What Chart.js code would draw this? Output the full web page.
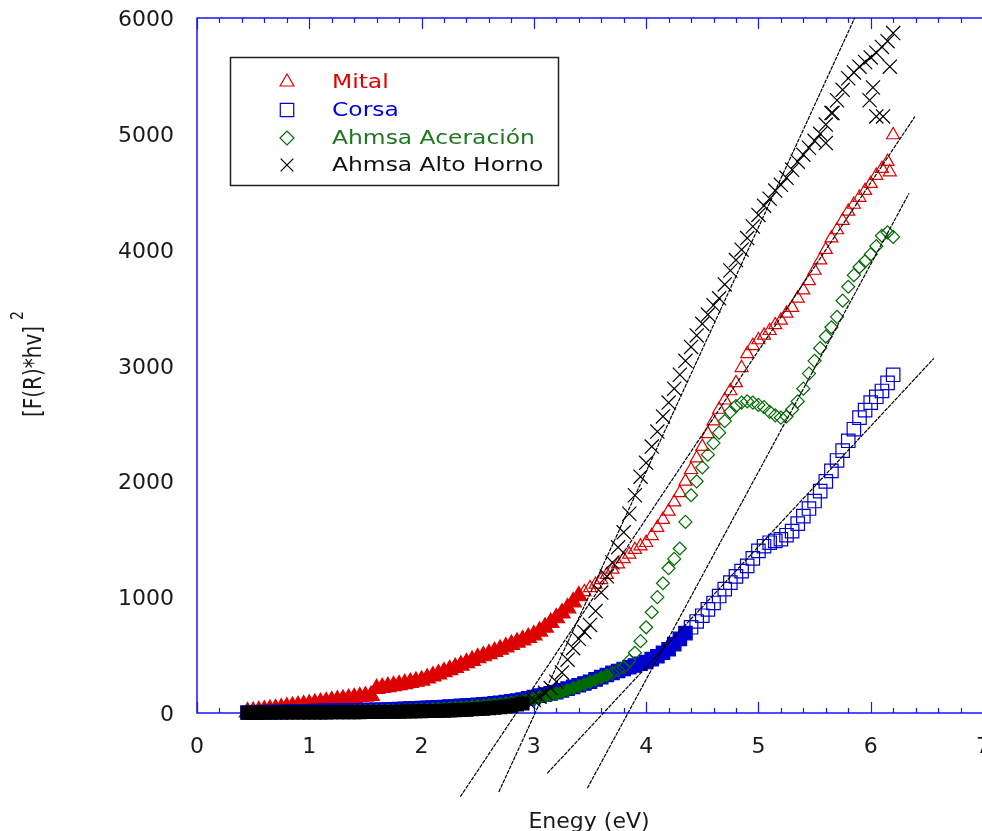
<!DOCTYPE html>
<html>
<head>
<meta charset="utf-8">
<script src="https://cdn.jsdelivr.net/npm/chart.js@4"></script>
<style>
  html, body { margin: 0; padding: 0; background: #fff; overflow: hidden; }
  #wrap { width: 982px; height: 831px; overflow: hidden; }
</style>
</head>
<body>
<div id="wrap"><canvas id="chart" width="1000" height="831"></canvas></div>
<script>
// photon energy (eV), shared by the four samples
const energy = [
  0.45,0.50,0.55,0.60,0.65,0.70,0.75,0.80,0.85,0.90,
  0.95,1.00,1.05,1.10,1.15,1.20,1.25,1.30,1.35,1.40,
  1.45,1.50,1.55,1.60,1.65,1.70,1.75,1.80,1.85,1.90,
  1.95,2.00,2.05,2.10,2.15,2.20,2.25,2.30,2.35,2.40,
  2.45,2.50,2.55,2.60,2.65,2.70,2.75,2.80,2.85,2.90,
  2.95,3.00,3.05,3.10,3.15,3.20,3.25,3.30,3.35,3.40,
  3.45,3.50,3.55,3.60,3.65,3.70,3.75,3.80,3.85,3.90,
  3.95,4.00,4.05,4.10,4.15,4.20,4.25,4.30,4.35,4.40,
  4.45,4.50,4.55,4.60,4.65,4.70,4.75,4.80,4.85,4.90,
  4.95,5.00,5.05,5.10,5.15,5.20,5.25,5.30,5.35,5.40,
  5.45,5.50,5.55,5.60,5.65,5.70,5.75,5.80,5.85,5.90,
  5.95,6.00,6.05,6.10,6.15,6.20
];

// [F(R)*hv]^2 por muestra
const mital = [
  8,12,18,24,30,36,42,49,56,63,
  69,75,82,89,96,103,110,117,124,131,
  138,144,150,210,218,226,234,242,252,262,
  272,282,300,318,336,354,372,392,412,432,
  453,475,492,510,529,548,569,590,610,630,
  651,673,705,740,780,820,862,906,958,1010,
  1045,1080,1110,1150,1195,1240,1285,1330,1370,1410,
  1440,1470,1530,1600,1670,1740,1820,1900,2000,2100,
  2200,2300,2410,2520,2620,2700,2780,2850,2980,3100,
  3170,3220,3260,3300,3350,3390,3450,3500,3580,3650,
  3730,3820,3910,4000,4100,4170,4250,4330,4390,4450,
  4510,4570,4640,4700,4760,4990
];
const corsa = [
  4,5,6,7,8,9,10,11,12,13,
  14,15,16,17,18,19,20,21,22,23,
  24,25,26,27,28,30,32,34,36,38,
  40,42,44,46,49,52,55,58,61,64,
  67,70,74,78,83,88,94,101,108,116,
  126,138,150,160,170,180,195,210,225,240,
  255,270,290,310,328,346,363,380,395,410,
  425,440,465,490,520,550,595,640,690,740,
  790,840,895,950,1010,1070,1125,1180,1225,1270,
  1335,1400,1440,1470,1485,1500,1535,1570,1635,1700,
  1765,1830,1915,2000,2090,2180,2265,2350,2450,2550,
  2615,2680,2730,2780,2850,2920
];
const aceracion = [
  3,3,4,4,5,5,6,6,7,7,
  8,8,9,9,10,10,11,12,13,14,
  15,16,17,18,19,20,21,22,24,26,
  28,30,32,34,36,39,42,45,48,52,
  56,60,64,68,73,78,84,90,97,105,
  113,122,132,143,155,168,182,198,214,232,
  250,268,285,305,325,345,368,395,450,520,
  620,740,870,1000,1120,1250,1330,1420,1650,1880,
  2000,2120,2230,2330,2420,2520,2600,2650,2680,2690,
  2680,2660,2640,2600,2570,2550,2560,2620,2690,2800,
  2930,3040,3150,3250,3330,3420,3560,3680,3780,3850,
  3900,3960,4030,4120,4150,4110
];
const altoHorno = [
  2,2,2,3,3,3,3,4,4,4,
  4,5,5,5,5,6,6,6,7,7,
  7,8,8,9,9,10,10,11,12,13,
  14,15,16,17,18,20,22,24,26,28,
  31,34,37,41,45,50,56,63,72,82,
  95,112,140,175,215,270,350,460,560,640,
  700,760,880,1040,1180,1300,1430,1560,1720,1880,
  2040,2160,2300,2430,2560,2680,2800,2920,3040,3160,
  3260,3360,3440,3520,3580,3700,3820,3910,4000,4100,
  4200,4300,4380,4440,4510,4560,4620,4690,4760,4820,
  4880,4940,5000,5080,5180,5290,5380,5480,5530,5580,
  5620,5660,5700,5750,5800,5870
];
// puntos sueltos fuera de la curva principal
const mitalExtraE = [6.17];
const mitalExtraV = [4670];
const altoHornoExtraE = [5.60, 5.66, 5.99, 6.02, 6.05, 6.11, 6.17];
const altoHornoExtraV = [4920, 5180, 5290, 5400, 5150, 5150, 5580];

// rectas tangentes (extremos en eV, valor)
const fitMital = [[2.345, -723], [6.393, 5148]];
const fitCorsa = [[3.119, -521], [6.563, 3062]];
const fitAceracion = [[3.476, -650], [6.342, 4487]];
const fitAltoHorno = [[2.688, -682], [5.857, 6000]];

const seriesNames = ['Mital', 'Corsa', 'Ahmsa Aceración', 'Ahmsa Alto Horno'];
const seriesColors = ['#dd0000', '#0000d0', '#006a00', '#000000'];
const legendTextColors = ['#e00000', '#0000e6', '#1e781e', '#111111'];

const xMin = 0, xMax = 7, xStep = 1;
const yMin = 0, yMax = 6000, yStep = 1000;

const axisBlue = '#1414ff';
const labelFont = '22px "DejaVu Sans"';

function toPoints(xs, ys) {
  return xs.map((x, i) => ({ x: x, y: ys[i] }));
}
function toLine(pairs) {
  return pairs.map(p => ({ x: p[0], y: p[1] }));
}
// zona donde los marcadores se amontonan en una banda continua
function inBand(c, limit) {
  return c.raw && c.raw.x < limit;
}
function fillBelow(limit, color) {
  return c => inBand(c, limit) ? color : 'rgba(0,0,0,0)';
}

// marco azul y marcas hacia dentro
const frameAndTicks = {
  id: 'frameAndTicks',
  beforeDatasetsDraw(chart) {
    const ctx = chart.ctx, a = chart.chartArea, xs = chart.scales.x;
    ctx.save();
    ctx.strokeStyle = axisBlue;
    ctx.lineWidth = 1.5;
    ctx.beginPath();
    ctx.moveTo(a.right, a.top);
    ctx.lineTo(a.left, a.top);
    ctx.lineTo(a.left, a.bottom);
    ctx.lineTo(a.right, a.bottom);
    ctx.lineTo(a.right, a.top);
    ctx.stroke();
    ctx.beginPath();
    for (let i = 0; i <= 35; i++) {
      const px = Math.round(xs.getPixelForValue(i * 0.2)) + 0.5;
      const len = i % 5 === 0 ? 11 : 5;
      ctx.moveTo(px, a.bottom);
      ctx.lineTo(px, a.bottom - len);
      ctx.moveTo(px, a.top);
      ctx.lineTo(px, a.top + len);
    }
    ctx.lineWidth = 1.2;
    ctx.stroke();
    ctx.restore();
  }
};

const tickLabels = {
  id: 'tickLabels',
  afterDraw(chart) {
    const ctx = chart.ctx, a = chart.chartArea;
    const xs = chart.scales.x, ys = chart.scales.y;
    ctx.save();
    ctx.font = labelFont;
    ctx.fillStyle = '#1a1a1a';
    ctx.textBaseline = 'alphabetic';
    ctx.textAlign = 'center';
    xs.ticks.forEach(t => {
      ctx.fillText(String(t.value), xs.getPixelForValue(t.value), a.bottom + 40);
    });
    ctx.textAlign = 'right';
    ys.ticks.forEach(t => {
      ctx.fillText(String(t.value), a.left - 23, ys.getPixelForValue(t.value) + 8);
    });
    ctx.restore();
  }
};

function drawMarker(ctx, style, x, y, r) {
  ctx.beginPath();
  if (style === 'triangle') {
    ctx.moveTo(x, y - r);
    ctx.lineTo(x + r * 0.866, y + r * 0.5);
    ctx.lineTo(x - r * 0.866, y + r * 0.5);
    ctx.closePath();
  } else if (style === 'rect') {
    const s = r * 0.707;
    ctx.rect(x - s, y - s, 2 * s, 2 * s);
  } else if (style === 'rectRot') {
    ctx.moveTo(x - r, y);
    ctx.lineTo(x, y - r);
    ctx.lineTo(x + r, y);
    ctx.lineTo(x, y + r);
    ctx.closePath();
  } else {
    const s = r * 0.707;
    ctx.moveTo(x - s, y - s);
    ctx.lineTo(x + s, y + s);
    ctx.moveTo(x + s, y - s);
    ctx.lineTo(x - s, y + s);
  }
  ctx.stroke();
}

// leyenda con recuadro
const legendBox = {
  id: 'legendBox',
  afterDraw(chart) {
    const ctx = chart.ctx;
    const styles = ['triangle', 'rect', 'rectRot', 'crossRot'];
    const sizes = [8, 9.5, 7, 9];
    const rows = [82, 110, 138, 165];
    ctx.save();
    ctx.fillStyle = '#fff';
    ctx.fillRect(230, 57, 328, 129);
    ctx.strokeStyle = '#222';
    ctx.lineWidth = 1.5;
    ctx.strokeRect(230.5, 57.5, 328, 128);
    ctx.lineWidth = 1.2;
    ctx.font = '20px "DejaVu Sans"';
    ctx.textBaseline = 'middle';
    ctx.textAlign = 'left';
    for (let i = 0; i < 4; i++) {
      ctx.strokeStyle = seriesColors[i];
      drawMarker(ctx, styles[i], 287, rows[i], sizes[i]);
      ctx.fillStyle = legendTextColors[i];
      ctx.save();
      ctx.translate(332, rows[i] + 1);
      ctx.scale(1.17, 1);
      ctx.fillText(seriesNames[i], 0, 0);
      ctx.restore();
    }
    ctx.restore();
  }
};

// títulos de los ejes
const axisTitles = {
  id: 'axisTitles',
  afterDraw(chart) {
    const ctx = chart.ctx;
    ctx.save();
    ctx.fillStyle = '#1a1a1a';
    ctx.font = labelFont;
    ctx.textAlign = 'center';
    ctx.textBaseline = 'alphabetic';
    ctx.fillText('Enegy (eV)', 589, 828);

    ctx.translate(41, 417);
    ctx.rotate(-Math.PI / 2);
    ctx.scale(1, 1.2);
    ctx.textAlign = 'left';
    ctx.font = '20px "DejaVu Sans"';
    ctx.fillText('[F(R)*hv]', 0, 0);
    const w = ctx.measureText('[F(R)*hv]').width;
    ctx.font = '14px "DejaVu Sans"';
    ctx.fillText('2', w + 6, -15);
    ctx.restore();
  }
};

const tangentStyle = {
  showLine: true,
  pointRadius: 0,
  borderColor: '#000',
  borderWidth: 1.2,
  borderDash: [4, 1],
  clip: false,
  order: 0
};

new Chart(document.getElementById('chart'), {
  type: 'scatter',
  data: {
    datasets: [
      {
        label: seriesNames[0],
        data: toPoints(energy, mital).concat(toPoints(mitalExtraE, mitalExtraV)),
        pointStyle: 'triangle',
        pointRadius: c => inBand(c, 3.45) ? 9.5 : 7.5,
        pointBorderWidth: 1.2,
        pointBorderColor: seriesColors[0],
        pointBackgroundColor: fillBelow(3.45, seriesColors[0]),
        clip: false,
        order: 4
      },
      {
        label: seriesNames[1],
        data: toPoints(energy, corsa),
        pointStyle: 'rect',
        pointRadius: 9.5,
        pointBorderWidth: 1.2,
        pointBorderColor: seriesColors[1],
        pointBackgroundColor: fillBelow(4.4, seriesColors[1]),
        clip: false,
        order: 3
      },
      {
        label: seriesNames[2],
        data: toPoints(energy, aceracion),
        pointStyle: 'rectRot',
        pointRadius: 6.5,
        pointBorderWidth: 1.2,
        pointBorderColor: seriesColors[2],
        pointBackgroundColor: fillBelow(3.7, seriesColors[2]),
        clip: false,
        order: 2
      },
      {
        label: seriesNames[3],
        data: toPoints(energy, altoHorno).concat(toPoints(altoHornoExtraE, altoHornoExtraV)),
        pointStyle: c => inBand(c, 2.95) ? 'rect' : 'crossRot',
        pointRadius: c => inBand(c, 2.95) ? 9 : 10,
        pointBorderWidth: 1.2,
        pointBorderColor: seriesColors[3],
        pointBackgroundColor: seriesColors[3],
        clip: false,
        order: 1
      },
      Object.assign({ data: toLine(fitMital) }, tangentStyle),
      Object.assign({ data: toLine(fitCorsa) }, tangentStyle),
      Object.assign({ data: toLine(fitAceracion) }, tangentStyle),
      Object.assign({ data: toLine(fitAltoHorno) }, tangentStyle)
    ]
  },
  options: {
    responsive: false,
    animation: false,
    devicePixelRatio: 1,
    layout: { padding: { left: 0, top: 18, right: 17, bottom: 0 } },
    plugins: {
      legend: { display: false },
      tooltip: { enabled: false }
    },
    scales: {
      x: {
        type: 'linear',
        min: xMin,
        max: xMax,
        afterFit: s => { s.height = 118; },
        ticks: { stepSize: xStep, display: false },
        grid: { display: false, drawTicks: false },
        border: { display: false }
      },
      y: {
        type: 'linear',
        min: yMin,
        max: yMax,
        afterFit: s => { s.width = 197; },
        ticks: { stepSize: yStep, display: false },
        grid: { display: false, drawTicks: false },
        border: { display: false }
      }
    }
  },
  plugins: [frameAndTicks, tickLabels, legendBox, axisTitles]
});
</script>
</body>
</html>
